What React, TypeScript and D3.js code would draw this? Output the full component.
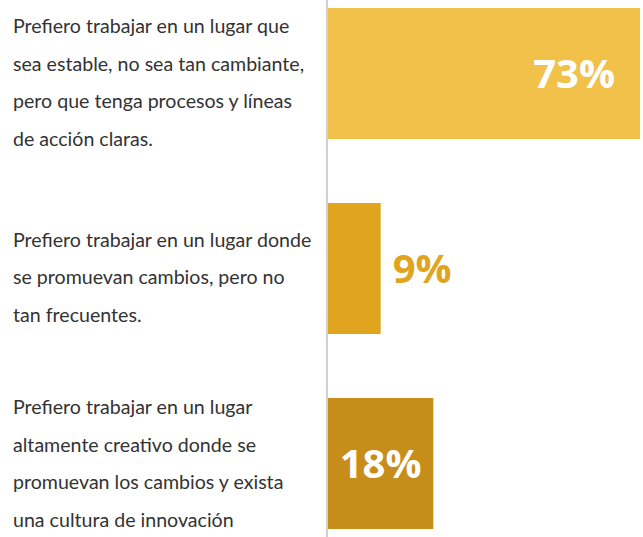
import React, { useEffect, useRef } from 'react';
import * as d3 from 'd3';

// answer options, already split into the lines shown in the chart
const categories = [
  ['Prefiero trabajar en un lugar que', 'sea estable, no sea tan cambiante,', 'pero que tenga procesos y líneas', 'de acción claras.'],
  ['Prefiero trabajar en un lugar donde', 'se promuevan cambios, pero no', 'tan frecuentes.'],
  ['Prefiero trabajar en un lugar', 'altamente creativo donde se', 'promuevan los cambios y exista', 'una cultura de innovación'],
];
const values = [73, 9, 18];
const colors = ['#F2C14A', '#E0A41E', '#C68D1A'];

const App = () => {
  const ref = useRef<SVGSVGElement>(null);

  useEffect(() => {
    const width = 640;
    const height = 537;
    const axisX = 328;
    const lineH = 37.5;
    // small nudge of the text blocks so they sit like the original rows
    const textShift = [9, 9, 0];

    const svg = d3.select(ref.current);
    svg.selectAll('*').remove();
    svg.attr('width', width).attr('height', height);

    const ids = categories.map((_, i) => String(i));

    const y = d3.scaleBand().domain(ids).range([8, 529]).paddingInner(0.328).paddingOuter(0);
    const x = d3.scaleLinear().domain([0, 100]).range([axisX, axisX + 585]);

    // left text
    const g = svg.selectAll('.cat').data(categories).enter().append('text')
      .attr('class', 'cat')
      .attr('x', 13)
      .style('font-family', 'Lato, "Open Sans", sans-serif')
      .style('font-size', '19.6px')
      .style('fill', '#333');
    g.each(function (lines, i) {
      const cy = (y(String(i)) as number) + y.bandwidth() / 2 + textShift[i];
      const top = cy - ((lines.length - 1) * lineH) / 2;
      d3.select(this).selectAll('tspan').data(lines).enter().append('tspan')
        .attr('x', 13)
        .attr('y', (_, j) => top + j * lineH)
        .attr('dy', '0.35em')
        .text(d => d);
    });

    // axis line
    svg.append('line')
      .attr('x1', axisX - 1).attr('x2', axisX - 1)
      .attr('y1', 0).attr('y2', height)
      .attr('stroke', '#d0d0d0').attr('stroke-width', 2);

    const barEnd = (v: number) => Math.min(x(v), width);

    // bars
    svg.selectAll('.bar').data(values).enter().append('rect')
      .attr('class', 'bar')
      .attr('x', x(0))
      .attr('y', (_, i) => y(String(i)) as number)
      .attr('width', d => barEnd(d) - x(0))
      .attr('height', y.bandwidth())
      .attr('fill', (_, i) => colors[i]);

    // value labels
    svg.selectAll('.label').data(values).enter().append('text')
      .attr('class', 'label')
      .attr('x', d => {
        const w = barEnd(d) - x(0);
        if (w > 200) return barEnd(d) - 25;
        if (w > 90) return x(0) + w / 2;
        return barEnd(d) + 12;
      })
      .attr('text-anchor', d => {
        const w = barEnd(d) - x(0);
        return w > 200 ? 'end' : w > 90 ? 'middle' : 'start';
      })
      .attr('y', (_, i) => (y(String(i)) as number) + y.bandwidth() / 2)
      .attr('dy', '0.36em')
      .style('font-family', '"Open Sans", Lato, sans-serif')
      .style('font-weight', 'bold')
      .style('font-size', '40px')
      .style('fill', (d, i) => (barEnd(d) - x(0) > 90 ? '#fff' : colors[i]))
      .text(d => d + '%');
  }, []);

  return <svg ref={ref} style={{ position: 'absolute', left: 0, top: 0, display: 'block' }}></svg>;
};

export default App;
